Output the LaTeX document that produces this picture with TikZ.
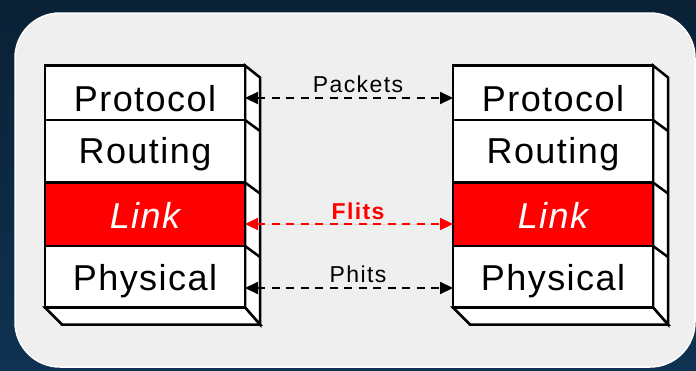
\documentclass[tikz,border=0pt]{standalone}
\usepackage{fontspec}
\setmainfont{Liberation Sans}
\usetikzlibrary{arrows.meta}
\definecolor{bgtop}{HTML}{0A2135}
\definecolor{bgbot}{HTML}{0E3251}
\definecolor{panel}{HTML}{EFEFEF}
\definecolor{linkred}{HTML}{FF0000}

% One protocol stack drawn as an extruded box: #1 = left x, #2 = name prefix
\newcommand{\drawstack}[2]{%
  \filldraw[face] (#1+200,65.5) -- (#1+215,77.5) -- (#1+215,324.5) -- (#1+200,307.5) -- cycle;
  \filldraw[face] (#1,307.5) -- (#1+200,307.5) -- (#1+215,324.5) -- (#1+17,324.5) -- cycle;
  \foreach \yy in {120,182.5,246} \draw[face] (#1+200,\yy) -- (#1+215,\yy+11);
  \node[layer, minimum height=54.5pt] (#2p)  at (#1,65.5) {};
  \node[layer, minimum height=62.5pt] (#2r)  at (#1,120) {};
  \node[layer, minimum height=63.5pt, fill=linkred] (#2l) at (#1,182.5) {};
  \node[layer, minimum height=61.5pt] (#2ph) at (#1,246) {};
  \node[layertext] (#2pt)  at (#1+100,111.7) {Protocol};
  \node[layertext] (#2rt)  at (#1+100,163.3) {Routing};
  \node[layertext, text=white, font=\fontsize{36}{40}\selectfont\itshape\addfontfeature{LetterSpace=4}] (#2lt) at (#1+100,228) {Link};
  \node[layertext] (#2pht) at (#1+100,290) {Physical};
}

\begin{document}
\begin{tikzpicture}[x=1pt, y=-1pt,
  face/.style={draw=black, line width=2.5pt, fill=white, line join=miter},
  layer/.style={draw=black, line width=2.5pt, fill=white, minimum width=200pt,
                inner sep=0pt, outer sep=0pt, anchor=north west},
  layertext/.style={font=\fontsize{36}{40}\selectfont\addfontfeature{LetterSpace=4},
                    anchor=base, inner sep=0pt},
  peer/.style={line width=2.2pt, dash pattern=on 8pt off 6.5pt,
               {Triangle[length=13pt,width=12pt]}-{Triangle[length=13pt,width=12pt]}},
  lbl/.style={font=\fontsize{23}{26}\selectfont\addfontfeature{LetterSpace=6},
              anchor=base, inner sep=0pt}
]
\useasboundingbox (0,0) rectangle (696,370);
% backdrop and rounded panel
\shade[top color=bgtop, bottom color=bgbot] (0,0) rectangle (696,370);
\filldraw[fill=panel, draw=white, line width=1.5pt, rounded corners=45pt]
  (15,13) rectangle (695,367);

\drawstack{45}{L}
\drawstack{453}{R}

% peer-to-peer exchanges between the two stacks
\draw[peer] ([yshift=-5.25pt]Lp.east) -- ([yshift=-5.25pt]Lp.east -| Rp.west);
\draw[peer, draw=linkred, fill=linkred] ([yshift=-9.75pt]Ll.east) -- ([yshift=-9.75pt]Ll.east -| Rl.west);
\draw[peer] ([yshift=-11.25pt]Lph.east) -- ([yshift=-11.25pt]Lph.east -| Rph.west);

\node[lbl] (pk) at (358,92) {Packets};
\node[lbl, text=linkred, font=\fontsize{23}{26}\selectfont\bfseries\addfontfeature{LetterSpace=6}] (fl) at (358,219) {Flits};
\node[lbl] (ph) at (358,282) {Phits};
\end{tikzpicture}
\end{document}
